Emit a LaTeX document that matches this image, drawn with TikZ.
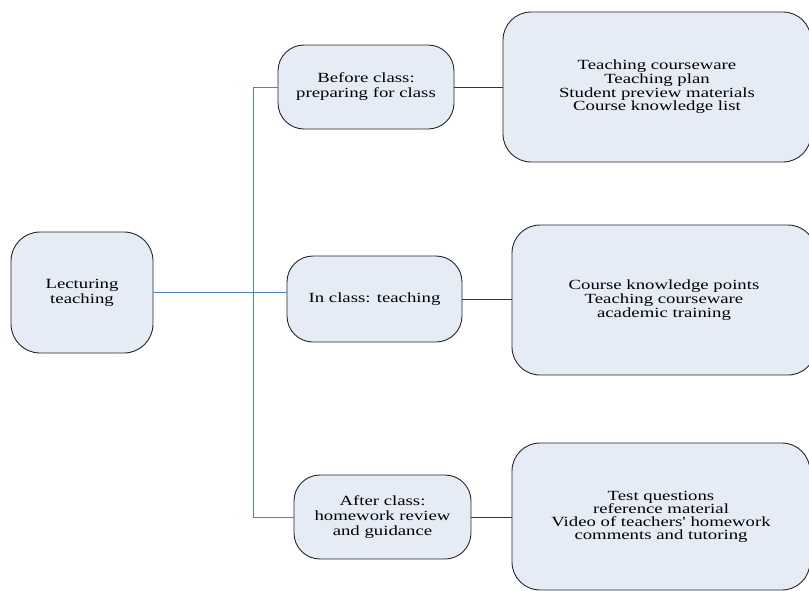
\documentclass[tikz,border=0pt]{standalone}
\usepackage{fontspec}
\newfontfamily\plainserif{Liberation Serif}[FakeStretch=1.34]
\definecolor{boxfill}{HTML}{E6ECF6}
\definecolor{boxdraw}{HTML}{262626}
\definecolor{linkblue}{HTML}{4F81BD}
\definecolor{linkgray}{HTML}{333333}
\begin{document}
\begin{tikzpicture}[x=1pt,y=-1pt,
  box/.style={draw=boxdraw,fill=boxfill,line width=0.9pt,rectangle,align=center,inner sep=0pt},
  leftbox/.style={box,rounded corners=26pt,font=\plainserif\fontsize{14}{15}\selectfont},
  rightbox/.style={box,rounded corners=28pt,font=\plainserif\fontsize{14}{12.6}\selectfont},
  bluelink/.style={draw=linkblue,line width=1pt},
  graylink/.style={draw=linkgray,line width=1pt}]
\useasboundingbox (0,0) rectangle (809,590);
\node[leftbox,rounded corners=29pt,minimum width=142pt,minimum height=121pt] (lec) at (82,292.5) {Lecturing\\teaching};
\node[leftbox,minimum width=176pt,minimum height=84pt] (before) at (366,87) {Before class:\\preparing for class};
\node[leftbox,minimum width=175pt,minimum height=86pt] (inclass) at (374.5,299) {In class: teaching};
\node[leftbox,minimum width=177pt,minimum height=84pt] (after) at (382.5,517) {After class:\\homework review\\and guidance};
\node[rightbox,minimum width=308pt,minimum height=150pt] (r1) at (657,87) {Teaching courseware\\Teaching plan\\Student preview materials\\Course knowledge list};
\node[rightbox,minimum width=304pt,minimum height=150pt] (r2) at (664,300) {Course knowledge points\\Teaching courseware\\academic training};
\node[rightbox,minimum width=298pt,minimum height=147pt] (r3) at (661,516.5) {Test questions\\reference material\\Video of teachers' homework\\comments and tutoring};
\coordinate (jt) at (253,87);
\coordinate (jb) at (253,517);
\draw[bluelink] (lec.east) -- (lec.east -| inclass.west);
\draw[bluelink] (before.west) -- (jt) -- (jb) -- (after.west);
\draw[graylink] (before.east) -- (r1.west);
\draw[graylink] (inclass.east) -- (inclass.east -| r2.west);
\draw[graylink] (after.east) -- (after.east -| r3.west);
\end{tikzpicture}
\end{document}
